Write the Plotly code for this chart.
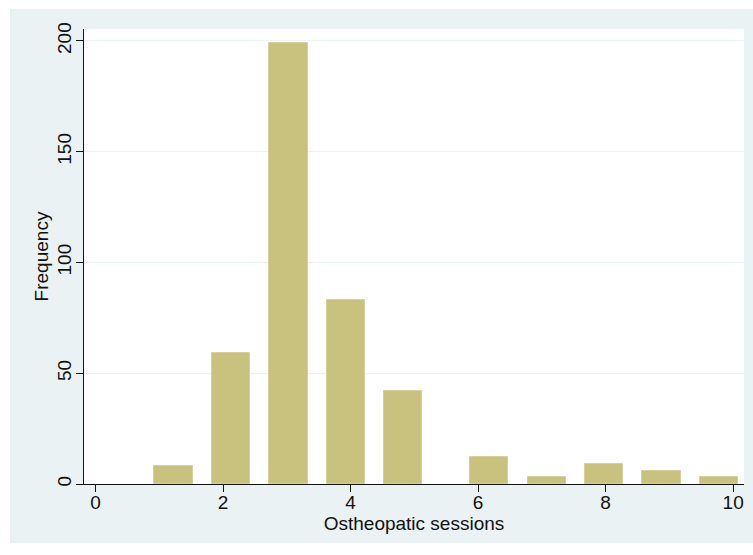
import numpy as np
import plotly.graph_objects as go

# Data
sessions = [1, 2, 3, 4, 5, 6, 7, 8, 9, 10]
frequency = [8, 59, 199, 83, 42, 12, 3, 9, 6, 3]
x_ticks = [0, 2, 4, 6, 8, 10]
y_ticks = [0, 50, 100, 150, 200]

# Stata-style binning: 20 equal bins over the data range
nbins = 20
lo, hi = min(sessions), max(sessions)
bw = (hi - lo) / nbins
idx = np.clip(np.floor((np.array(sessions) - lo) / bw), 0, nbins - 1)
centers = lo + (idx + 0.5) * bw

BAR = "#C9C17E"
BG = "#EAF2F3"
FONT = "Liberation Sans, Arial, sans-serif"

fig = go.Figure()
fig.add_trace(go.Bar(
    x=centers, y=frequency, width=0.6,
    marker=dict(color=BAR, line=dict(color="#D6CF9F", width=1)),
    hoverinfo="x+y",
))

fig.update_layout(
    width=753, height=555,
    margin=dict(l=84, r=9, t=29, b=71),
    paper_bgcolor="white",
    plot_bgcolor="white",
    showlegend=False,
    bargap=0,
    font=dict(family=FONT, size=19, color="#111"),
    shapes=[
        dict(type="rect", xref="paper", yref="paper",
             x0=-0.1121, x1=1.02, y0=-0.1297, y1=1.044,
             fillcolor=BG, line=dict(width=0), layer="below"),
        dict(type="rect", xref="paper", yref="paper",
             x0=0, x1=1, y0=0, y1=1,
             fillcolor="white", line=dict(width=0), layer="below"),
    ],
)

fig.update_xaxes(
    range=[-0.18, 10.17],
    tickmode="array", tickvals=x_ticks,
    ticks="outside", ticklen=7, tickwidth=1, tickcolor="#111",
    ticklabelstandoff=-6,
    showline=True, linecolor="#111", linewidth=1,
    showgrid=False, zeroline=False,
    tickfont=dict(family=FONT, size=19, color="#111"),
    title=dict(text="Ostheopatic sessions", standoff=4,
               font=dict(family=FONT, size=19, color="#111")),
)
fig.update_yaxes(
    range=[0, 205.4],
    tickmode="array", tickvals=y_ticks,
    ticks="outside", ticklen=7, tickwidth=1, tickcolor="#111",
    tickangle=-90,
    ticklabelstandoff=-3,
    showline=True, linecolor="#111", linewidth=1,
    showgrid=True, gridcolor=BG, gridwidth=1,
    zeroline=False,
    tickfont=dict(family=FONT, size=19, color="#111"),
    title=dict(text="Frequency", standoff=0,
               font=dict(family=FONT, size=19, color="#111")),
)

fig.write_html(
    "out.html",
    config={"displayModeBar": False},
    post_script="document.body.style.margin='0';document.body.style.overflow='hidden';",
)
